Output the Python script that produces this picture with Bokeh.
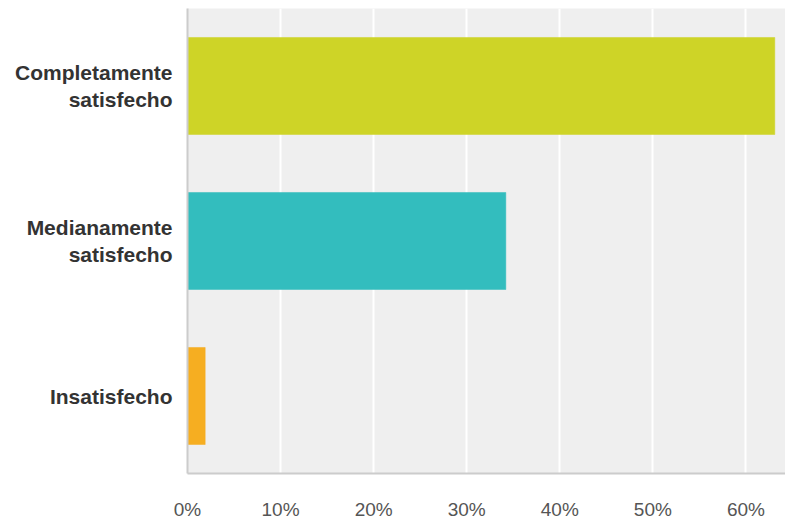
from bokeh.plotting import figure
from bokeh.models import FactorRange, FixedTicker, PrintfTickFormatter, ColumnDataSource, Range1d
from bokeh.embed import file_html
from bokeh.resources import INLINE

categories = ["Completamente\nsatisfecho", "Medianamente\nsatisfecho", "Insatisfecho"]
percentages = [63.1, 34.2, 1.9]
colors = ["#ced427", "#33bdbe", "#f6ae21"]
x_ticks = [0, 10, 20, 30, 40, 50, 60]

source = ColumnDataSource(dict(cat=categories, pct=percentages, color=colors))

p = figure(
    y_range=FactorRange(*reversed(categories)),
    x_range=Range1d(0, 64.25),
    frame_width=598, frame_height=465,
    min_border_left=187, min_border_right=0, min_border_top=8, min_border_bottom=48,
    output_backend="svg", toolbar_location=None,
)
p.hbar(y="cat", right="pct", left=0, height=0.626, color="color",
       line_color="color", line_alpha=0.5, source=source)

p.background_fill_color = "#efefef"
p.border_fill_color = "white"
p.outline_line_color = None

p.xaxis.ticker = FixedTicker(ticks=x_ticks)
p.xaxis.formatter = PrintfTickFormatter(format="%d%%")
p.xaxis.major_label_text_font = "Liberation Sans"
p.xaxis.major_label_text_font_size = "19px"
p.xaxis.major_label_text_color = "#555555"
p.xaxis.major_label_standoff = 19
p.xaxis.major_tick_line_color = None
p.xaxis.minor_tick_line_color = None
p.xaxis.axis_line_color = "#cccccc"
p.xaxis.axis_line_width = 2

p.yaxis.major_label_text_font = "Liberation Sans"
p.yaxis.major_label_text_font_style = "bold"
p.yaxis.major_label_text_font_size = "21px"
p.yaxis.major_label_text_color = "#333333"
p.yaxis.major_label_standoff = 9
p.yaxis.major_tick_line_color = None
p.yaxis.minor_tick_line_color = None
p.yaxis.axis_line_color = "#cccccc"
p.yaxis.axis_line_width = 2

p.xgrid.grid_line_color = "white"
p.xgrid.grid_line_width = 2
p.ygrid.grid_line_color = None

open("out.html", "w").write(file_html(p, INLINE))
